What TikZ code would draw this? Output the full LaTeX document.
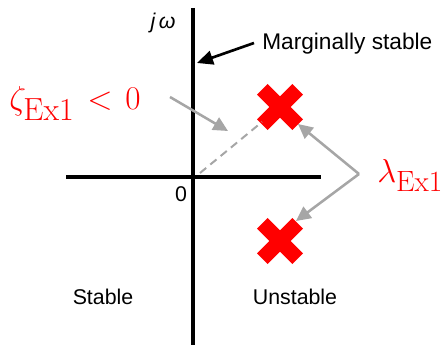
\documentclass[tikz,border=0pt]{standalone}
\usepackage{fontspec}
\newfontfamily\labfont{Liberation Sans}
\usetikzlibrary{arrows.meta}
\definecolor{pgray}{RGB}{166,166,166}
\definecolor{pred}{RGB}{255,0,0}
\newcommand{\subex}[1]{\mbox{\fontsize{#1}{26}\selectfont Ex1}}
\tikzset{
  axisline/.style={line width=2.3pt, black},
  xline/.style={line width=11.25pt, pred},
  grayarrow/.style={line width=1.9pt, pgray, -{Triangle[length=11pt,width=10.5pt]}},
  blackarrow/.style={line width=2pt, black, -{Triangle[length=12pt,width=10.5pt]}},
  dashline/.style={line width=1.5pt, pgray, dash pattern=on 6pt off 4pt},
  lab/.style={inner sep=0pt, font=\labfont\fontsize{16}{19}\selectfont},
  mathlab/.style={inner sep=0pt, text=pred, font=\fontsize{26}{30}\selectfont}
}
\begin{document}
\begin{tikzpicture}[x=0.75pt,y=-0.75pt]
\useasboundingbox (0,0) rectangle (446,345);
% axes
\coordinate (vtop) at (193,8);
\coordinate (vbot) at (193,345);
\coordinate (hl) at (66,177);
\coordinate (hr) at (321,177);
\draw[axisline] (vtop) -- (vbot);
\draw[axisline] (hl) -- (hr);
% labels
\node[lab, anchor=base, font=\labfont\itshape\fontsize{16}{19}\selectfont] (jw) at (163,29) {j\,ω};
\node[lab, anchor=base] (zero) at (181,202) {0};
\node[lab, anchor=base west, font=\labfont\fontsize{17}{20}\selectfont] (marg) at (262,50) {Marginally stable};
\node[lab, anchor=base] (stable) at (103,304) {Stable};
\node[lab, anchor=base] (unstable) at (295,304) {Unstable};
% poles
\coordinate (p1) at (280,107);
\coordinate (p2) at (280,241);
\draw[xline] ([shift={(-17.7,-17.7)}]p1) -- ([shift={(17.7,17.7)}]p1);
\draw[xline] ([shift={(-17.7,17.7)}]p1) -- ([shift={(17.7,-17.7)}]p1);
\draw[xline] ([shift={(-17.7,-17.7)}]p2) -- ([shift={(17.7,17.7)}]p2);
\draw[xline] ([shift={(-17.7,17.7)}]p2) -- ([shift={(17.7,-17.7)}]p2);
% dashed line from origin to pole
\coordinate (dstart) at (200,173);
\coordinate (dend) at (262,122);
\draw[dashline] (dstart) -- (dend);
% marginally stable arrow
\coordinate (margtail) at (254,43);
\coordinate (margtip) at (197,63);
\draw[blackarrow] (margtail) -- (margtip);
% zeta label and arrow
\node[mathlab, anchor=base west] (zeta) at (9,110) {$\zeta_{\subex{24}}\mkern2mu < \mkern2mu 0$};
\coordinate (ztail) at (170,97);
\coordinate (ztip) at (228,131);
\draw[grayarrow] (ztail) -- (ztip);
% lambda label and arrows
\node[mathlab, anchor=base west] (lam) at (377,183) {$\lambda_{\subex{22}}$};
\coordinate (junc) at (359,174);
\coordinate (tip1) at (298,124);
\coordinate (tip2) at (296,221);
\draw[grayarrow] (junc) -- (tip1);
\draw[grayarrow] (junc) -- (tip2);
\end{tikzpicture}
\end{document}
